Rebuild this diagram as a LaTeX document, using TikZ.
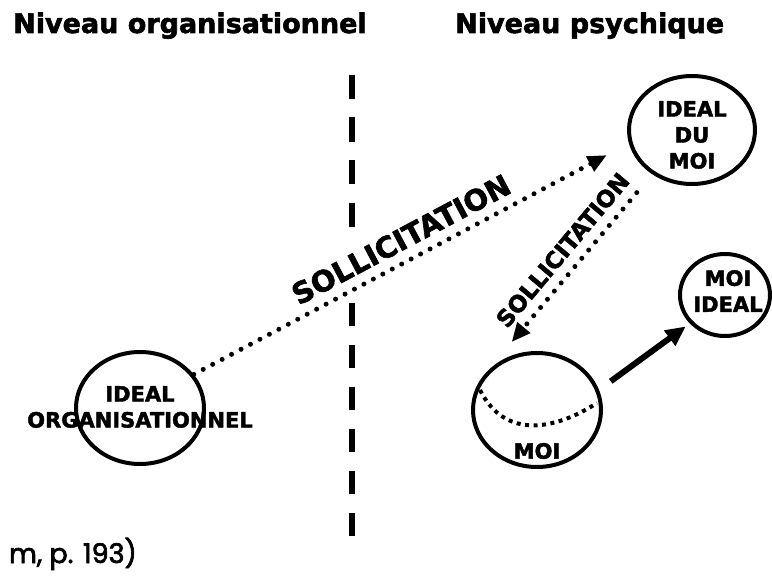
\documentclass[tikz,border=0pt]{standalone}
\usepackage{fontspec}
\setmainfont{DejaVu Sans}[BoldFeatures={FakeBold=2}]
\newfontfamily\srcfont{Poppins}[BoldFont={Poppins}, BoldFeatures={FakeBold=2.5}]
\usetikzlibrary{shapes.geometric,arrows.meta}

\tikzset{
  ringnode/.style={draw, ellipse, line width=4pt, inner sep=0pt},
  lbl/.style={font=\bfseries\fontsize{21}{26}\selectfont, align=center, inner sep=0pt},
  headline/.style={font=\bfseries\fontsize{27}{32}\selectfont, inner sep=0pt, anchor=base west},
  sollbig/.style={font=\bfseries\fontsize{29}{34}\selectfont, inner sep=0pt, sloped},
  sollsmall/.style={font=\bfseries\fontsize{23}{27}\selectfont, inner sep=0pt, sloped},
  dotarrow/.style={line width=5pt, line cap=round, dash pattern=on 0pt off 10.7pt,
                   -{Triangle[length=19pt,width=16pt]}},
  solidarrow/.style={line width=6pt, -{Triangle[length=20pt,width=18pt]}},
  separator/.style={line width=6pt},
  innercurve/.style={line width=4pt, dash pattern=on 4pt off 4.5pt}
}

\begin{document}
\begin{tikzpicture}[x=1pt, y=-1pt]
\useasboundingbox (0,0) rectangle (772,578);

% column headings
\node[headline] (hleft)  at (13,33)  {Niveau organisationnel};
\node[headline] (hright) at (455,33) {Niveau psychique};

% separator between the two levels
\draw[separator, dash pattern=on 24pt off 18.5pt] (352,75) -- (352,227);
\draw[separator, dash pattern=on 23pt off 19pt] (352,303) -- (352,536);

% rings
\node[ringnode, minimum width=128pt, minimum height=112pt] (org)   at (140,408) {};
\node[ringnode, minimum width=126pt, minimum height=108pt] (idm)   at (692,130) {};
\node[ringnode, minimum width=128pt, minimum height=114pt] (moi)   at (537,410) {};
\node[ringnode, minimum width=90pt,  minimum height=82pt]  (moiid) at (725,295) {};

% ring texts
\node[lbl] (orgtxt)   at (140,407) {IDEAL\\ORGANISATIONNEL};
\node[lbl] (idmtxt)   at (692,135) {IDEAL\\DU\\MOI};
\node[lbl] (moiidtxt) at (728,291) {MOI\\IDEAL};
\node[lbl] (moitxt)   at (537,451) {MOI};

% dotted curve inside MOI
\draw[innercurve] (480,390) .. controls (505,440) and (555,430) .. (597,403);

% connectors
\draw[dotarrow, shorten >=25pt] (org.32) --
  node[sollbig, pos=0.5, yshift=22pt] (lab1) {SOLLICITATION} (idm.192);
\draw[dotarrow, shorten <=24pt, shorten >=38pt] (idm.228) --
  node[sollsmall, pos=0.45, yshift=20pt] (lab2) {SOLLICITATION} (moi.142);
\draw[solidarrow, shorten <=14.5pt, shorten >=5pt] (moi.18) -- (moiid.219);

% source note
\node[font=\srcfont\bfseries\fontsize{27}{32}\selectfont, inner sep=0pt, anchor=base east]
  (src) at (137,563) {m, p. 193)};
\end{tikzpicture}
\end{document}
